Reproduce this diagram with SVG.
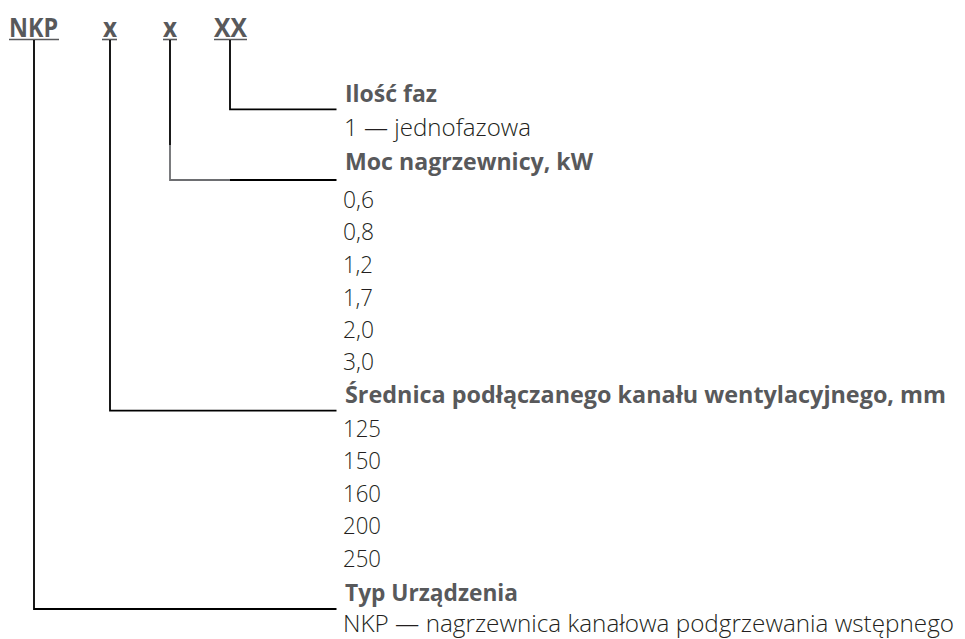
<svg xmlns="http://www.w3.org/2000/svg" width="965" height="639" viewBox="0 0 965 639">
<style>
.t{font-family:"Open Sans","Liberation Sans",sans-serif;font-weight:700;font-size:26px;fill:#58595b}
.h{font-family:"Open Sans","Liberation Sans",sans-serif;font-weight:700;font-size:24px;fill:#58595b}
.r{font-family:"Open Sans","Liberation Sans",sans-serif;font-weight:300;font-size:23px;fill:#231f20}
.ul{stroke:#58595b;stroke-width:1.6}
.c{fill:none;stroke:#000;stroke-width:1.8}
.g{fill:none;stroke:#6d6e71;stroke-width:1.8}
</style>
<rect width="965" height="639" fill="#fff"/>
<g id="code">
<text class="t" x="9" y="37" textLength="49" lengthAdjust="spacingAndGlyphs">NKP</text>
<text class="t" x="103" y="37" textLength="14" lengthAdjust="spacingAndGlyphs">x</text>
<text class="t" x="163" y="37" textLength="14" lengthAdjust="spacingAndGlyphs">x</text>
<text class="t" x="214" y="37" textLength="33" lengthAdjust="spacingAndGlyphs">XX</text>
<line class="ul" x1="9" y1="39.5" x2="59" y2="39.5"/>
<line class="ul" x1="102" y1="39.5" x2="117" y2="39.5"/>
<line class="ul" x1="163" y1="39.5" x2="177" y2="39.5"/>
<line class="ul" x1="214" y1="39.5" x2="247" y2="39.5"/>
</g>
<g id="connectors">
<polyline class="c" points="230,40 230,109.3 336.5,109.3"/>
<polyline class="c" points="170,40 170,145"/>
<polyline class="g" points="170,145 170,180 230,180"/>
<polyline class="c" points="230,180 336.5,180"/>
<polyline class="c" points="110,40 110,410.7 336.5,410.7"/>
<polyline class="c" points="34,40 34,609 336.5,609"/>
</g>
<g id="faz">
<text class="h" x="345" y="102" textLength="92" lengthAdjust="spacingAndGlyphs">Ilość faz</text>
<text class="r" x="344" y="135.7" textLength="187" lengthAdjust="spacingAndGlyphs">1 — jednofazowa</text>
</g>
<g id="moc">
<text class="h" x="345" y="170" textLength="248" lengthAdjust="spacingAndGlyphs">Moc nagrzewnicy, kW</text>
<text class="r" x="343" y="207.7" textLength="31" lengthAdjust="spacingAndGlyphs">0,6</text>
<text class="r" x="343" y="240" textLength="31" lengthAdjust="spacingAndGlyphs">0,8</text>
<text class="r" x="343" y="273" textLength="30" lengthAdjust="spacingAndGlyphs">1,2</text>
<text class="r" x="343" y="306" textLength="30" lengthAdjust="spacingAndGlyphs">1,7</text>
<text class="r" x="343" y="338" textLength="31" lengthAdjust="spacingAndGlyphs">2,0</text>
<text class="r" x="343" y="370" textLength="31" lengthAdjust="spacingAndGlyphs">3,0</text>
</g>
<g id="srednica">
<text class="h" x="345" y="403" textLength="601" lengthAdjust="spacingAndGlyphs">Średnica podłączanego kanału wentylacyjnego, mm</text>
<text class="r" x="343" y="437" textLength="38" lengthAdjust="spacingAndGlyphs">125</text>
<text class="r" x="343" y="469" textLength="38" lengthAdjust="spacingAndGlyphs">150</text>
<text class="r" x="343" y="501.7" textLength="38" lengthAdjust="spacingAndGlyphs">160</text>
<text class="r" x="343" y="534" textLength="38" lengthAdjust="spacingAndGlyphs">200</text>
<text class="r" x="343" y="567" textLength="38" lengthAdjust="spacingAndGlyphs">250</text>
</g>
<g id="typ">
<text class="h" x="345" y="600.7" textLength="173" lengthAdjust="spacingAndGlyphs">Typ Urządzenia</text>
<text class="r" x="343" y="631.5" textLength="611" lengthAdjust="spacingAndGlyphs" font-size="22">NKP  — nagrzewnica kanałowa podgrzewania wstępnego</text>
</g>
</svg>
